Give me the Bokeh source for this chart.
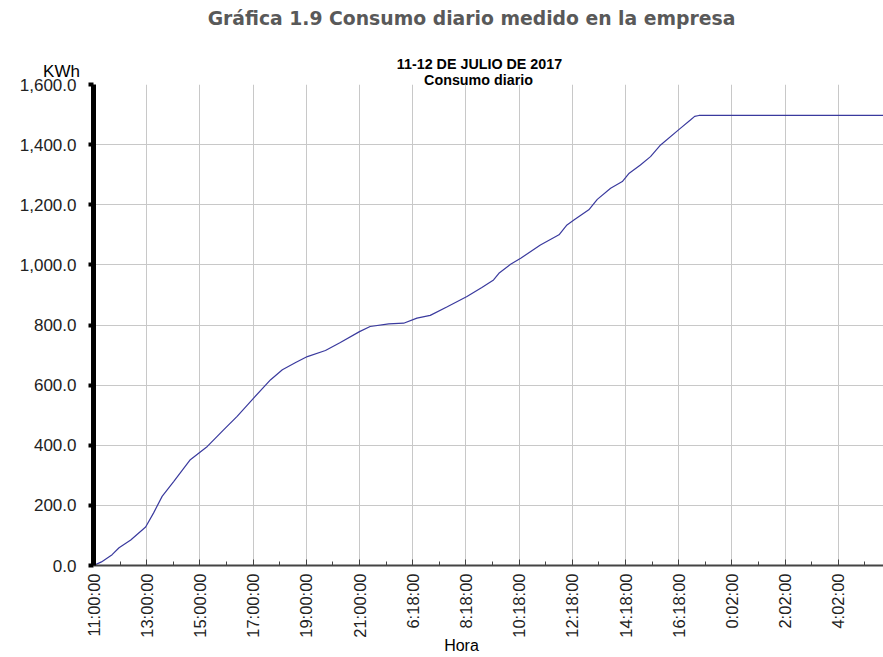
import math
from bokeh.plotting import figure
from bokeh.models import Range1d, FixedTicker, NumeralTickFormatter, Label
from bokeh.embed import file_html
from bokeh.resources import INLINE

# ---- data ----
time_labels = ["11:00:00", "13:00:00", "15:00:00", "17:00:00", "19:00:00", "21:00:00",
               "6:18:00", "8:18:00", "10:18:00", "12:18:00", "14:18:00", "16:18:00",
               "0:02:00", "2:02:00", "4:02:00"]
# position along the time axis, in label steps (0 = 11:00:00)
sample_pos = [0.0, 0.15, 0.35, 0.48, 0.7, 0.98, 1.13, 1.29, 1.51, 1.82, 2.14, 2.45,
              2.70, 3.01, 3.33, 3.55, 3.8, 4.02, 4.36, 4.64, 5.0, 5.2, 5.55, 5.83,
              6.08, 6.33, 6.65, 7.02, 7.3, 7.52, 7.62, 7.84, 8.03, 8.4, 8.75, 8.9,
              9.03, 9.31, 9.47, 9.72, 9.94, 10.07, 10.28, 10.47, 10.66, 11.03, 11.22,
              11.30, 11.38, 14.85]
kwh = [0, 12, 36, 59, 85, 128, 175, 230, 280, 352, 396, 452,
       496, 557, 618, 651, 675, 695, 715, 742, 778, 795, 804, 806,
       823, 832, 861, 895, 925, 950, 972, 1002, 1022, 1066, 1100, 1133,
       1149, 1183, 1218, 1255, 1277, 1305, 1332, 1360, 1399, 1454, 1482,
       1494, 1497, 1497]
y_ticks = [0, 200, 400, 600, 800, 1000, 1200, 1400, 1600]

title_text = "Gráfica 1.9 Consumo diario medido en la empresa"
sub1 = "11-12 DE JULIO DE 2017"
sub2 = "Consumo diario"
y_title = "KWh"
x_title = "Hora"

# ---- layout ----
W, H = 883, 657
ML, MR, MT, MB = 93, 0, 84, 91
X_END = (W - ML - MR) / 53.2

p = figure(width=W, height=H, output_backend="svg", toolbar_location=None,
           x_range=Range1d(0, X_END), y_range=Range1d(0, 1600),
           min_border_left=ML, min_border_right=MR, min_border_top=MT,
           min_border_bottom=MB)
p.outline_line_color = None
p.background_fill_color = "white"
p.border_fill_color = "white"

p.line(sample_pos, kwh, line_color="#3a3a9e", line_width=1.2)

# x axis
xa = p.xaxis[0]
xa.ticker = FixedTicker(ticks=list(range(len(time_labels))),
                        minor_ticks=[i + 0.5 for i in range(len(time_labels))])
xa.major_label_overrides = {i: t for i, t in enumerate(time_labels)}
xa.major_label_orientation = math.pi / 2
xa.major_label_text_font = "Liberation Sans"
xa.major_label_text_font_size = "16.5px"
xa.major_label_text_color = "#222222"
xa.major_label_standoff = 8
xa.axis_line_color = "#444444"
xa.axis_line_width = 2
xa.major_tick_in = 6
xa.major_tick_out = 0
xa.minor_tick_in = 4
xa.minor_tick_out = 0
xa.major_tick_line_color = "#444444"
xa.minor_tick_line_color = "#444444"

# y axis
ya = p.yaxis[0]
ya.ticker = FixedTicker(ticks=y_ticks, minor_ticks=[])
ya.formatter = NumeralTickFormatter(format="0,0.0")
ya.major_label_text_font = "Liberation Sans"
ya.major_label_text_font_size = "17px"
ya.major_label_text_color = "#222222"
ya.major_label_standoff = 12
ya.axis_line_color = "black"
ya.axis_line_width = 5
ya.major_tick_in = 0
ya.major_tick_out = 5
ya.major_tick_line_width = 4
ya.major_tick_line_color = "black"

p.xgrid.grid_line_color = "#c8c8c8"
p.ygrid.grid_line_color = "#c8c8c8"
p.xgrid.grid_line_width = 1
p.ygrid.grid_line_width = 1

def add_label(txt, px, py, size, side, color="black", style="normal", font="Liberation Sans"):
    p.add_layout(Label(x=px, y=py, x_units="canvas", y_units="canvas", text=txt,
                       text_align="center", text_baseline="middle", text_font=font,
                       text_font_size=size, text_color=color,
                       text_font_style=style), side)

add_label(title_text, 471, 18, "18.8px", "above", color="#595959", style="bold", font="DejaVu Sans")
add_label(sub1, 479, 63, "14.3px", "above", style="bold")
add_label(sub2, 478, 79, "14.3px", "above", style="bold")
add_label(y_title, 61, 71, "17px", "above")
add_label(x_title, 461, 645, "16px", "below")

open("out.html", "w").write(file_html(p, INLINE))
